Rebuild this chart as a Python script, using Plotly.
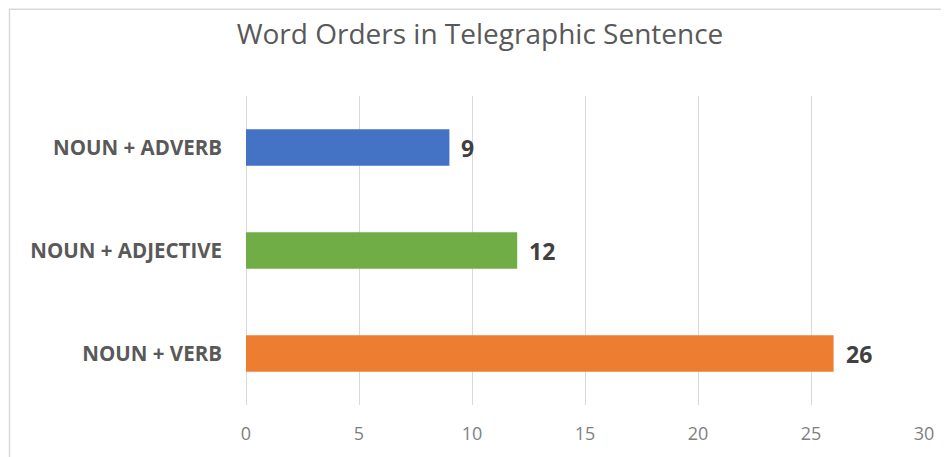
import plotly.graph_objects as go

categories = ["NOUN + VERB", "NOUN + ADJECTIVE", "NOUN + ADVERB"]
values = [26, 12, 9]
colors = ["#ED7D31", "#70AD47", "#4472C4"]
x_ticks = [0, 5, 10, 15, 20, 25, 30]
title_text = "Word Orders in Telegraphic Sentence"

# page body has an 8px margin, so the figure is sized to fit the window
W, H = 941, 449
ML, MR, MT, MB = 238, 25, 88, 49
PW, PH = W - ML - MR, H - MT - MB

fig = go.Figure()
fig.add_trace(go.Bar(
    y=categories, x=values, orientation="h",
    marker=dict(color=colors, line=dict(width=0)),
    width=0.355, hoverinfo="skip",
))

for c, v in zip(categories, values):
    fig.add_annotation(
        x=v, y=c, xref="x", yref="y", text=f"<b>{v}</b>",
        showarrow=False, xanchor="left", yanchor="middle", xshift=10,
        font=dict(family="Open Sans", size=23, color="#404040"),
    )

# chart frame (left and top edges visible)
fig.add_shape(
    type="rect", xref="paper", yref="paper",
    x0=(1.5 - ML) / PW, x1=(W + 20 - ML) / PW,
    y0=(H - MB - (H + 20)) / PH, y1=(H - MB - 0.5) / PH,
    line=dict(color="#D9D9D9", width=1.5), fillcolor="rgba(0,0,0,0)", layer="below",
)

fig.update_layout(
    width=W, height=H,
    margin=dict(l=ML, r=MR, t=MT, b=MB),
    paper_bgcolor="white", plot_bgcolor="white",
    showlegend=False,
    title=dict(
        text=title_text, x=472 / W, xanchor="center", y=1 - 26 / H, yanchor="middle",
        xref="container", yref="container",
        font=dict(family="Open Sans", size=28, color="#595959"),
    ),
    xaxis=dict(
        range=[0, 30], tickvals=x_ticks, showgrid=True, gridcolor="#D9D9D9", gridwidth=1,
        zeroline=True, zerolinecolor="#D9D9D9", zerolinewidth=1, showline=False,
        ticks="", ticklabelstandoff=16,
        tickfont=dict(family="Open Sans", size=18, color="#7F7F7F"),
        fixedrange=True,
    ),
    yaxis=dict(
        categoryorder="array", categoryarray=categories, showgrid=False,
        zeroline=False, showline=False, ticks="", ticklabelstandoff=23,
        tickfont=dict(family="Open Sans", size=20.5, color="#595959", weight="bold"),
        fixedrange=True,
    ),
)

fig.write_html("out.html")
